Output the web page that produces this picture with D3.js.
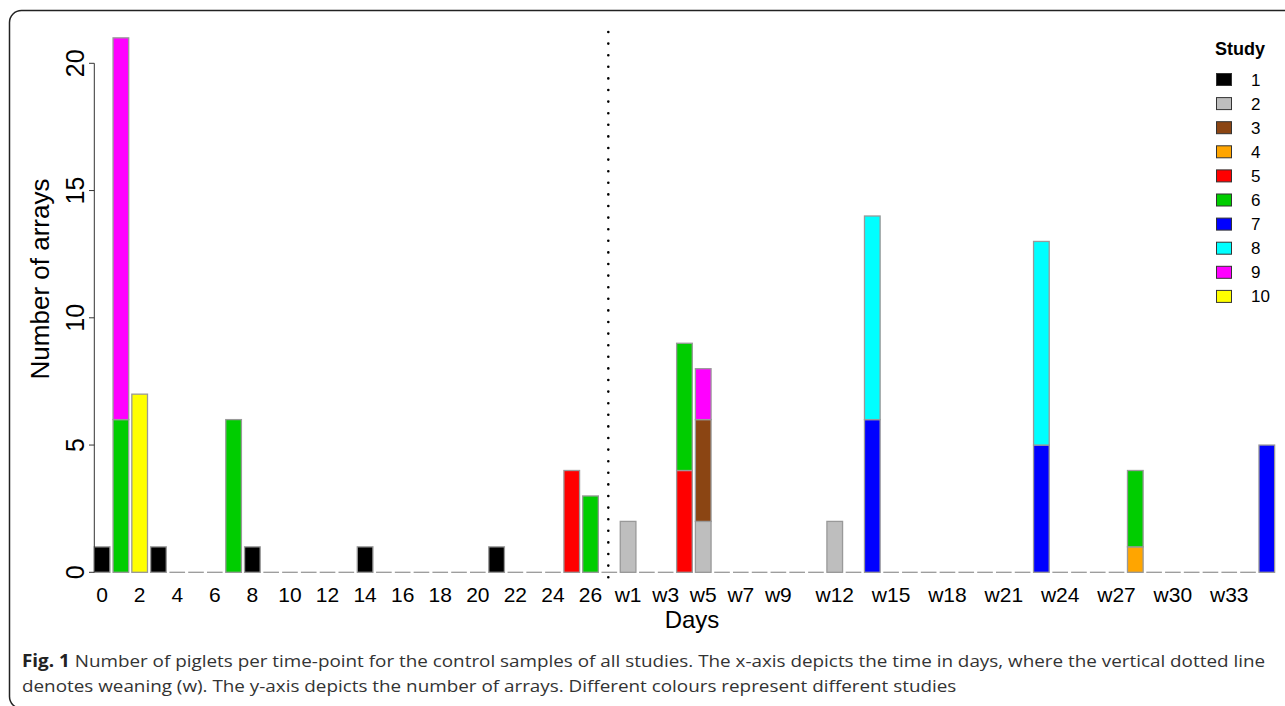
<!DOCTYPE html>
<html>
<head>
<meta charset="utf-8">
<script src="https://cdn.jsdelivr.net/npm/d3@7"></script>
<style>
  body { margin: 0; background: #fff; }
  svg { display: block; }
</style>
</head>
<body>
<div id="chart"></div>
<script>

// time points: days before weaning, then weeks after weaning
const dayPoints = ["0", "1", "2", "3", "4", "5", "6", "7", "8", "9", "10", "11", "12", "13",
    "14", "15", "16", "17", "18", "19", "20", "21", "22", "23", "24", "25", "26", "27"]
const weekPoints = ["w1", "w2", "w3", "w4", "w5", "w6", "w7", "w8", "w9", "w10", "w11", "w12",
    "w13", "w14", "w15", "w16", "w17", "w18", "w19", "w20", "w21", "w22", "w23", "w24",
    "w25", "w26", "w27", "w28", "w29", "w30", "w31", "w32", "w33", "w34", "w35"]

// labels R kept on the axis
const tickLabels = ["0", "2", "4", "6", "8", "10", "12", "14", "16", "18", "20", "22", "24", "26",
    "w1", "w3", "w5", "w7", "w9", "w12", "w15", "w18", "w21", "w24", "w27", "w30", "w33"]
const yTicks = [0, 5, 10, 15, 20]

const studies = ["1", "2", "3", "4", "5", "6", "7", "8", "9", "10"]
const studyColors = ["#000000", "#bebebe", "#8b4513", "#ffa500", "#ff0000",
    "#00cd00", "#0000ff", "#00ffff", "#ff00ff", "#ffff00"]

// number of arrays per time point, per study
const study1 = [["0", 1], ["3", 1], ["8", 1], ["14", 1], ["21", 1]]
const study2 = [["w1", 2], ["w5", 2], ["w12", 2]]
const study3 = [["w5", 4]]
const study4 = [["w28", 1]]
const study5 = [["25", 4], ["w4", 4]]
const study6 = [["1", 6], ["7", 6], ["26", 3], ["w4", 5], ["w28", 3]]
const study7 = [["w14", 6], ["w23", 5], ["w35", 5]]
const study8 = [["w14", 8], ["w23", 8]]
const study9 = [["1", 15], ["w5", 2]]
const study10 = [["2", 7]]

const weaningPoint = "27"

const captionBold = "Fig. 1"
const captionLines = [
    " Number of piglets per time-point for the control samples of all studies. The x-axis depicts the time in days, where the vertical dotted line",
    "denotes weaning (w). The y-axis depicts the number of arrays. Different colours represent different studies"
]

function draw() {
    const width = 1285
    const height = 706

    const timePoints = dayPoints.concat(weekPoints)
    const series = [study1, study2, study3, study4, study5, study6, study7, study8, study9, study10]

    // wide table: one row per time point, one column per study
    const table = timePoints.map(t => {
        const row = { time: t }
        studies.forEach((s, i) => {
            const hit = series[i].find(d => d[0] === t)
            row[s] = hit ? hit[1] : 0
        })
        return row
    })

    const stacked = d3.stack().keys(studies)(table)

    const x = d3.scaleBand()
        .domain(timePoints)
        .range([92.7, 1276.2])
        .paddingInner(1 / 6)
        .paddingOuter(1 / 12)

    const y = d3.scaleLinear()
        .domain([0, 20])
        .range([572.3, 63.3])

    const color = d3.scaleOrdinal(studies, studyColors)

    const svg = d3.select("#chart")
        .append("svg")
        .attr("width", width)
        .attr("height", height)
        .style("font-family", "'Liberation Sans', Arial, sans-serif")

    // figure frame
    svg.append("rect")
        .attr("x", 9.5)
        .attr("y", 10.5)
        .attr("width", 1320)
        .attr("height", 698)
        .attr("rx", 12)
        .attr("fill", "none")
        .attr("stroke", "#222")
        .attr("stroke-width", 1.5)

    // zero-height bars show as a grey baseline segment
    svg.append("g")
        .selectAll("line")
        .data(timePoints)
        .join("line")
        .attr("x1", d => x(d))
        .attr("x2", d => x(d) + x.bandwidth())
        .attr("y1", y(0))
        .attr("y2", y(0))
        .attr("stroke", "#999")
        .attr("stroke-width", 1.3)

    svg.append("g")
        .selectAll("g")
        .data(stacked)
        .join("g")
        .attr("fill", d => color(d.key))
        .selectAll("rect")
        .data(d => d.filter(v => v[1] > v[0]))
        .join("rect")
        .attr("x", d => x(d.data.time))
        .attr("y", d => y(d[1]))
        .attr("width", x.bandwidth())
        .attr("height", d => y(d[0]) - y(d[1]))
        .attr("stroke", "#999")
        .attr("stroke-width", 1.3)

    // weaning line
    const xw = x(weaningPoint) + x.bandwidth() / 2 - 1
    svg.append("line")
        .attr("x1", xw)
        .attr("x2", xw)
        .attr("y1", 32)
        .attr("y2", 578)
        .attr("stroke", "#000")
        .attr("stroke-width", 2.6)
        .attr("stroke-linecap", "round")
        .attr("stroke-dasharray", "0,11.6")

    // y axis, R style
    const yAxis = svg.append("g")
    yAxis.append("line")
        .attr("x1", 94.3).attr("x2", 94.3)
        .attr("y1", y(0)).attr("y2", y(20))
        .attr("stroke", "#333")
    yAxis.selectAll("line.tick")
        .data(yTicks)
        .join("line")
        .attr("class", "tick")
        .attr("x1", 89).attr("x2", 94.3)
        .attr("y1", d => y(d)).attr("y2", d => y(d))
        .attr("stroke", "#333")
    yAxis.selectAll("text")
        .data(yTicks)
        .join("text")
        .attr("transform", d => `translate(83.5,${y(d)}) rotate(-90)`)
        .attr("text-anchor", "middle")
        .attr("font-size", 25)
        .text(d => d)

    svg.append("text")
        .attr("transform", "translate(49,279) rotate(-90)")
        .attr("text-anchor", "middle")
        .attr("font-size", 26)
        .text("Number of arrays")

    // x tick labels
    svg.append("g")
        .selectAll("text")
        .data(tickLabels)
        .join("text")
        .attr("x", d => x(d) + x.bandwidth() / 2)
        .attr("y", 601.5)
        .attr("text-anchor", "middle")
        .attr("font-size", 21)
        .text(d => d)

    svg.append("text")
        .attr("x", 692)
        .attr("y", 628)
        .attr("text-anchor", "middle")
        .attr("font-size", 24)
        .text("Days")

    // legend
    const legend = svg.append("g")
    legend.append("text")
        .attr("x", 1215)
        .attr("y", 55)
        .attr("font-size", 18)
        .attr("font-weight", "bold")
        .text("Study")
    const item = legend.selectAll("g")
        .data(studies)
        .join("g")
        .attr("transform", (d, i) => `translate(0,${79.5 + i * 24.1})`)
    item.append("rect")
        .attr("x", 1216.5)
        .attr("y", -6)
        .attr("width", 15)
        .attr("height", 12)
        .attr("fill", d => color(d))
        .attr("stroke", "#333")
    item.append("text")
        .attr("x", 1251)
        .attr("y", 6)
        .attr("font-size", 17)
        .text(d => d)

    // caption (the published figure is a little wider than Open Sans)
    const cap = svg.append("g")
        .attr("transform", "translate(22,0) scale(1.11,1)")
        .attr("font-family", "'Open Sans', 'Noto Sans', sans-serif")
        .attr("font-size", 17)
        .attr("fill", "#333")
    const first = cap.append("text")
        .attr("x", 0)
        .attr("y", 667)
    first.append("tspan")
        .attr("font-weight", "bold")
        .attr("fill", "#222")
        .text(captionBold)
    first.append("tspan")
        .text(captionLines[0])
    cap.append("text")
        .attr("x", 0)
        .attr("y", 692)
        .text(captionLines[1])
}

draw()
</script>
</body>
</html>
